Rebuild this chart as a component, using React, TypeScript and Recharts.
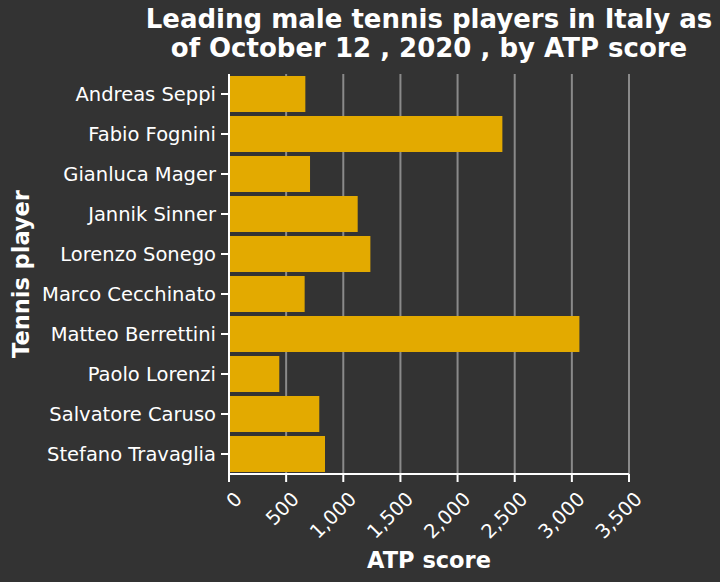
import { Bar, BarChart, CartesianGrid, Label, XAxis, YAxis } from "recharts";

const players = [
  "Andreas Seppi",
  "Fabio Fognini",
  "Gianluca Mager",
  "Jannik Sinner",
  "Lorenzo Sonego",
  "Marco Cecchinato",
  "Matteo Berrettini",
  "Paolo Lorenzi",
  "Salvatore Caruso",
  "Stefano Travaglia",
];
const atpScores = [668, 2392, 709, 1126, 1237, 662, 3066, 440, 790, 840];
const scoreTicks = [0, 500, 1000, 1500, 2000, 2500, 3000, 3500];

const data = players.map((name, i) => ({ name, score: atpScores[i] }));

const FONT = "'DejaVu Sans', sans-serif";
const BG = "#333333";

const XTick = ({ x, y, payload }: any) => (
  <text
    x={x + 4}
    y={y + 6}
    transform={`rotate(-45, ${x + 4}, ${y + 6})`}
    textAnchor="end"
    dominantBaseline="hanging"
    fill="#ffffff"
    fontSize={19.5}
    fontFamily={FONT}
  >
    {Number(payload.value).toLocaleString("en-US")}
  </text>
);

export default function App() {
  return (
    <div style={{ position: "absolute", left: 0, top: 0, width: 720, height: 582, background: BG }}>
      <div
        style={{
          position: "absolute",
          left: 129,
          width: 600,
          top: 5,
          textAlign: "center",
          color: "#ffffff",
          fontFamily: FONT,
          fontWeight: "bold",
          fontSize: 26,
          lineHeight: "29px",
        }}
      >
        Leading male tennis players in Italy as
        <br />
        of October 12 , 2020 , by ATP score
      </div>
      <BarChart
        width={720}
        height={582}
        data={data}
        layout="vertical"
        margin={{ top: 74, right: 91, bottom: 0, left: 0 }}
        barCategoryGap={2}
      >
        <CartesianGrid horizontal={false} stroke="#8a8a8a" strokeWidth={2} />
        <XAxis
          type="number"
          domain={[0, 3500]}
          ticks={scoreTicks}
          interval={0}
          height={108}
          tickSize={8}
          tickMargin={2}
          stroke="#ffffff"
          strokeWidth={2}
          tickLine={{ stroke: "#ffffff", strokeWidth: 2 }}
          tick={<XTick />}
        >
          <Label
            content={({ viewBox }: any) => (
              <text
                x={viewBox.x + viewBox.width / 2}
                y={568}
                textAnchor="middle"
                fill="#ffffff"
                fontSize={22.5}
                fontWeight="bold"
                fontFamily={FONT}
              >
                ATP score
              </text>
            )}
          />
        </XAxis>
        <XAxis
          xAxisId="top"
          orientation="top"
          type="number"
          domain={[0, 3500]}
          height={0}
          tick={false}
          tickLine={false}
          stroke="#dddddd"
          strokeWidth={2}
        />
        <YAxis
          type="category"
          dataKey="name"
          width={229}
          interval={0}
          tickSize={8}
          tickMargin={5}
          stroke="#ffffff"
          strokeWidth={2}
          tickLine={{ stroke: "#ffffff", strokeWidth: 2 }}
          tick={{ fill: "#ffffff", fontSize: 19.5, fontFamily: FONT }}
        >
          <Label
            content={({ viewBox }: any) => {
              const cy = viewBox.y + viewBox.height / 2;
              return (
                <text
                  x={29}
                  y={cy}
                  transform={`rotate(-90, 29, ${cy})`}
                  textAnchor="middle"
                  fill="#ffffff"
                  fontSize={22.5}
                  fontWeight="bold"
                  fontFamily={FONT}
                >
                  Tennis player
                </text>
              );
            }}
          />
        </YAxis>
        <Bar dataKey="score" fill="#e3aa00" isAnimationActive={false} />
      </BarChart>
    </div>
  );
}
